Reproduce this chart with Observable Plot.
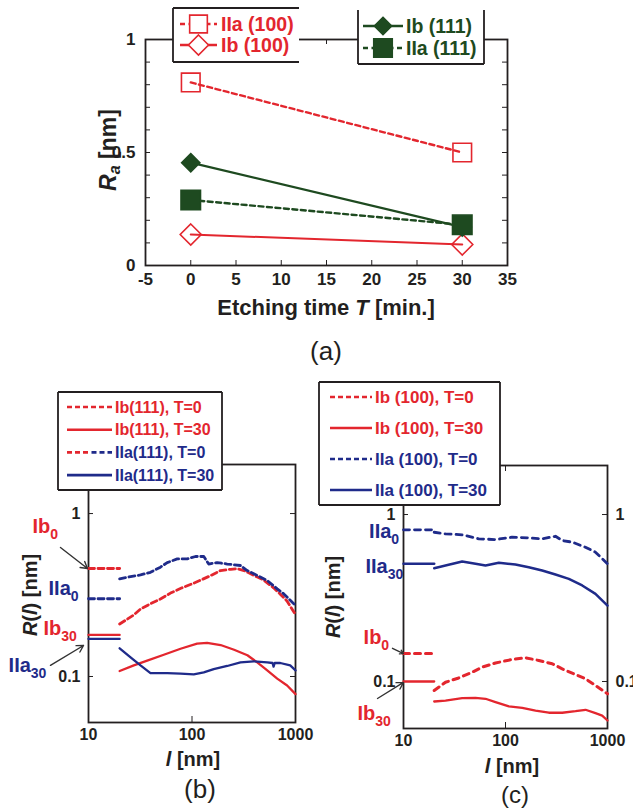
<!DOCTYPE html>
<html><head><meta charset="utf-8">
<script src="https://cdn.jsdelivr.net/npm/d3@7"></script>
<script src="https://cdn.jsdelivr.net/npm/@observablehq/plot@0.6"></script>
<style>
body{margin:0;background:#fff;}
#page{position:relative;width:633px;height:809px;overflow:hidden;background:#fff;font-family:"Liberation Sans",Arial,Helvetica,sans-serif;color:#231f20;}
.lbl{position:absolute;white-space:nowrap;font-weight:bold;transform:translate(-50%,-50%);line-height:1;}
.lbl sub{font-size:70%;vertical-align:-0.25em;}
</style></head><body><div id="page"></div>
<script>
// ---------------- DATA ----------------
// (a) average roughness vs etching time
const etchTime = [0, 30];
const seriesA = ["IIa (100)", "Ib (100)", "Ib (111)", "IIa (111)"];
const raIIa100 = [0.81, 0.50];
const raIb100  = [0.137, 0.093];
const raIb111  = [0.455, 0.17];
const raIIa111 = [0.29, 0.18];
const ticksAx = [-5, 0, 5, 10, 15, 20, 25, 30, 35];
const ticksAy = [0, 0.5, 1];

// (b) R(l) for (111)
const seriesB = ["Ib(111), T=0", "Ib(111), T=30", "IIa(111), T=0", "IIa(111), T=30"];
const lB_Ib0   = [20, 27, 32, 40, 50, 62, 80, 100, 121, 150, 189, 237, 274, 318, 397, 495, 614, 713, 830, 1000];
const rB_Ib0   = [0.21, 0.237, 0.26, 0.28, 0.30, 0.325, 0.35, 0.37, 0.39, 0.415, 0.447, 0.455, 0.458, 0.447, 0.417, 0.39, 0.35, 0.32, 0.29, 0.24];
const lB_Ib30  = [20, 27.4, 36.9, 53.4, 77.5, 112, 140, 189, 255, 343, 427, 533, 666, 830, 1000];
const rB_Ib30  = [0.108, 0.117, 0.125, 0.136, 0.148, 0.159, 0.161, 0.156, 0.146, 0.135, 0.122, 0.109, 0.097, 0.088, 0.078];
const lB_IIa0  = [20, 25.5, 31.8, 39.7, 49.6, 57.6, 72, 90, 108, 130, 145, 175, 219, 294, 341, 427, 533, 666, 771, 1000];
const rB_IIa0  = [0.397, 0.41, 0.42, 0.436, 0.469, 0.50, 0.527, 0.527, 0.545, 0.545, 0.49, 0.50, 0.49, 0.48, 0.447, 0.417, 0.388, 0.345, 0.321, 0.273];
const lB_IIa30 = [20, 25.5, 31.8, 39.7, 57.6, 77.5, 104, 130, 162, 219, 294, 396, 533, 600, 614, 630, 713, 889, 1000];
const rB_IIa30 = [0.149, 0.131, 0.117, 0.105, 0.105, 0.104, 0.103, 0.106, 0.111, 0.116, 0.122, 0.124, 0.122, 0.121, 0.115, 0.121, 0.121, 0.117, 0.109];
const initB    = [0.46, 0.18, 0.30, 0.17];   // Ib0, Ib30, IIa0, IIa30 at l = 10..20

// (c) R(l) for (100)
const seriesC = ["Ib (100), T=0", "Ib (100), T=30", "IIa (100), T=0", "IIa (100), T=30"];
const lC_Ib0   = [20, 25.8, 34.8, 47.2, 59.1, 79.8, 116, 157, 212, 287, 360, 486, 609, 762, 1000];
const rC_Ib0   = [0.0883, 0.099, 0.105, 0.1137, 0.122, 0.129, 0.1355, 0.1387, 0.1336, 0.1277, 0.119, 0.110, 0.1038, 0.0946, 0.0844];
const lC_Ib30  = [20, 25.8, 37.6, 50.8, 63.7, 79.8, 108, 146, 197, 266, 360, 486, 609, 762, 887, 1000];
const rC_Ib30  = [0.0759, 0.0769, 0.0794, 0.0797, 0.0788, 0.0752, 0.0709, 0.0696, 0.067, 0.065, 0.065, 0.0664, 0.0677, 0.0646, 0.0625, 0.0584];
const lC_IIa0  = [20, 25.8, 37.6, 54.9, 79.6, 116, 169, 229, 309, 360, 452, 607, 762, 1000];
const rC_IIa0  = [0.783, 0.766, 0.756, 0.715, 0.708, 0.731, 0.725, 0.715, 0.741, 0.699, 0.683, 0.637, 0.595, 0.507];
const lC_IIa30 = [20, 25.8, 37.6, 50.8, 63.7, 86, 125, 169, 229, 309, 418, 565, 762, 1000];
const rC_IIa30 = [0.477, 0.495, 0.523, 0.507, 0.495, 0.514, 0.502, 0.483, 0.462, 0.437, 0.412, 0.376, 0.335, 0.285];
const initC    = [0.147, 0.10, 0.81, 0.507];

const shortL = [10, 20];
const ticksLx = [10, 100, 1000];
const ticksRy = [0.1, 1];
const ticksRyLabels = ["0.1", "1"];

// annotation labels (data units)
const annoB = [
  {l: 2.88, R: 0.83, text: "Ib_0", c: "red"},
  {l: 4.11, R: 0.347, text: "IIa_0", c: "blue"},
  {l: 3.67, R: 0.197, text: "Ib_30", c: "red"},
  {l: 1.69, R: 0.117, text: "IIa_30", c: "blue"}
];
const arrowsB = [
  {l1: 5.36, R1: 0.619, l2: 9.78, R2: 0.46},
  {l1: 4.29, R1: 0.117, l2: 8.95, R2: 0.155}
];
const annoC = [
  {l: 4.6, R: 0.79, text: "IIa_0", c: "blue"},
  {l: 4.24, R: 0.489, text: "IIa_30", c: "blue"},
  {l: 4.06, R: 0.183, text: "Ib_0", c: "red"},
  {l: 3.54, R: 0.0643, text: "Ib_30", c: "red"}
];
const arrowsC = [
  {l1: 7.8, R1: 0.158, l2: 10, R2: 0.147},
  {l1: 5.56, R1: 0.0791, l2: 10, R2: 0.0987}
];

// ---------------- STYLE ----------------
const RED = "#e3262e", BLUE = "#1f2b8a", GREEN = "#1e4a20", INK = "#231f20";
const FONT = '"Liberation Sans", Arial, Helvetica, sans-serif';
const colorOf = {red: RED, blue: BLUE};
const styleA = {
  "IIa (100)": {color: RED, dash: "5,3.5", symbol: "square", fill: "none", r: 10.5, sw: 2.4},
  "Ib (100)":  {color: RED, dash: null, symbol: "diamond2", fill: "none", r: 9.5, sw: 2},
  "Ib (111)":  {color: GREEN, dash: null, symbol: "diamond2", fill: GREEN, r: 8.2, sw: 2.2},
  "IIa (111)": {color: GREEN, dash: "5,3.5", symbol: "square", fill: GREEN, r: 11, sw: 2.4}
};
const fmtR = d => ticksRyLabels[ticksRy.findIndex(t => Math.abs(t - d) < 1e-9)] ?? String(d);

const page = document.getElementById("page");
function put(el, left, top) {
  el.style.position = "absolute"; el.style.left = left + "px"; el.style.top = top + "px";
  page.appendChild(el);
}
function subscripts(svg) {
  svg.querySelectorAll("text").forEach(t => {
    const m = t.textContent.match(/^(.+)_(\d+)$/);
    if (m) {
      t.textContent = m[1];
      const ts = document.createElementNS("http://www.w3.org/2000/svg", "tspan");
      ts.setAttribute("dy", "6"); ts.setAttribute("font-size", "14"); ts.textContent = m[2];
      t.appendChild(ts);
    }
  });
}

// ---------------- PANEL (a) ----------------
{
  const W = 633, H = 380, mL = 145, mR = 126, mT = 39, mB = 115;
  const PW = W - mL - mR, PH = H - mT - mB;
  const raA = [raIIa100, raIb100, raIb111, raIIa111];
  const rows = seriesA.flatMap((name, i) => etchTime.map((T, j) => ({name, T, Ra: raA[i][j]})));
  const marks = [
    Plot.tickY(d3.ticks(0, 1, 10), {y: d => d, stroke: INK, insetRight: PW - 5}),
    Plot.tickY(d3.ticks(0, 1, 10), {y: d => d, stroke: INK, insetLeft: PW - 5}),
    Plot.tickX(ticksAx, {x: d => d, stroke: INK, insetTop: PH - 5}),
    Plot.tickX(ticksAx, {x: d => d, stroke: INK, insetBottom: PH - 5}),
    Plot.frame({stroke: INK, strokeWidth: 1.8}),
    Plot.axisY({ticks: ticksAy, tickSize: 0, tickPadding: 10, tickFormat: d => String(d), label: null}),
    Plot.axisX({ticks: ticksAx, tickSize: 0, tickPadding: 7, tickFormat: d => String(d), label: null})
  ];
  for (const name of seriesA) {
    const s = styleA[name], data = rows.filter(d => d.name === name);
    marks.push(Plot.line(data, {x: "T", y: "Ra", stroke: s.color, strokeWidth: s.sw, strokeDasharray: s.dash}));
    marks.push(Plot.dot(data, {x: "T", y: "Ra", symbol: s.symbol, r: s.r, stroke: s.color, fill: s.fill, strokeWidth: 1.6}));
  }
  const svg = Plot.plot({
    width: W, height: H, marginLeft: mL, marginRight: mR, marginTop: mT, marginBottom: mB,
    x: {domain: [-5, 35]}, y: {domain: [0, 1]},
    style: {fontFamily: FONT, fontSize: "17px", fontWeight: "bold", color: INK, background: "transparent", overflow: "visible"},
    marks
  });
  put(svg, 0, 0);
}

// ---------------- PANELS (b), (c) ----------------
function panelR(o) {
  const PW = o.width - o.mL - o.mR, PH = o.height - o.mT - o.mB;
  const marks = [
    Plot.tickY(ticksRy, {y: d => d, stroke: INK, insetRight: PW - 5}),
    Plot.tickY(ticksRy, {y: d => d, stroke: INK, insetLeft: PW - 5}),
    Plot.tickX([100], {x: d => d, stroke: INK, insetTop: PH - 6}),
    Plot.tickX([100], {x: d => d, stroke: INK, insetBottom: PH - 6}),
    Plot.frame({stroke: INK, strokeWidth: 1.8}),
    Plot.axisY({anchor: "left", ticks: ticksRy, tickSize: 0, tickPadding: 8, tickFormat: fmtR, label: null}),
    Plot.axisX({ticks: ticksLx, tickSize: 0, tickPadding: 6, tickFormat: d => String(d), label: null})
  ];
  if (o.rightLabels) marks.push(Plot.axisY({anchor: "right", ticks: ticksRy, tickSize: 0, tickPadding: 8, tickFormat: fmtR, label: null}));
  o.curves.forEach((c, i) => {
    const st = o.styles[i];
    const rows = c.l.map((l, k) => ({l, R: c.R[k]}));
    const seg = shortL.map(l => ({l, R: o.init[i]}));
    marks.push(Plot.line(seg, {x: "l", y: "R", stroke: st.color, strokeWidth: st.sw, strokeDasharray: st.dash}));
    marks.push(Plot.line(rows, {x: "l", y: "R", stroke: st.color, strokeWidth: st.sw, strokeDasharray: st.dash}));
  });
  marks.push(Plot.arrow(o.arrows, {x1: "l1", y1: "R1", x2: "l2", y2: "R2", stroke: "#333", strokeWidth: 1.4, headLength: 8}));
  marks.push(Plot.text(o.anno, {x: "l", y: "R", text: "text", fill: d => colorOf[d.c], textAnchor: "start", fontSize: 20, fontWeight: "bold"}));
  const svg = Plot.plot({
    width: o.width, height: o.height, marginLeft: o.mL, marginRight: o.mR, marginTop: o.mT, marginBottom: o.mB,
    x: {type: "log", domain: [10, 1000]}, y: {type: "log", domain: o.yDomain},
    style: {fontFamily: FONT, fontSize: "16px", fontWeight: "bold", color: INK, background: "transparent", overflow: "visible"},
    marks
  });
  subscripts(svg);
  put(svg, o.left, o.top);
}

const dashB = "6,3.5", dashC = "6,5";
panelR({
  left: 0, top: 440, width: 316, height: 369, mL: 88, mR: 21, mT: 24, mB: 87,
  yDomain: [0.0522, 2.0],
  curves: [{l: lB_Ib0, R: rB_Ib0}, {l: lB_Ib30, R: rB_Ib30}, {l: lB_IIa0, R: rB_IIa0}, {l: lB_IIa30, R: rB_IIa30}],
  init: initB,
  styles: [{color: RED, dash: dashB, sw: 2.8}, {color: RED, dash: null, sw: 2.3}, {color: BLUE, dash: dashB, sw: 2.8}, {color: BLUE, dash: null, sw: 2.3}],
  anno: annoB, arrows: arrowsB, rightLabels: false
});
panelR({
  left: 320, top: 440, width: 313, height: 369, mL: 83, mR: 26, mT: 25, mB: 81,
  yDomain: [0.0523, 1.966],
  curves: [{l: lC_Ib0, R: rC_Ib0}, {l: lC_Ib30, R: rC_Ib30}, {l: lC_IIa0, R: rC_IIa0}, {l: lC_IIa30, R: rC_IIa30}],
  init: initC,
  styles: [{color: RED, dash: dashC, sw: 3}, {color: RED, dash: null, sw: 2.3}, {color: BLUE, dash: dashC, sw: 2.8}, {color: BLUE, dash: null, sw: 2.5}],
  anno: annoC, arrows: arrowsC, rightLabels: true
});

// ---------------- LEGENDS ----------------
const overlay = d3.select(page).append("svg").attr("width", 633).attr("height", 809)
  .style("position", "absolute").style("left", 0).style("top", 0).style("pointer-events", "none");
const symbolType = {square: d3.symbolSquare, diamond2: d3.symbolDiamond2};
function legend(box, items) {
  const g = overlay.append("g");
  g.append("rect").attr("x", box.x).attr("y", box.y).attr("width", box.w).attr("height", box.h).attr("fill", "#fff");
  const s = box.sides || "tlbr";
  const L = (x1, y1, x2, y2) => g.append("line").attr("x1", x1).attr("y1", y1).attr("x2", x2).attr("y2", y2).attr("stroke", INK).attr("stroke-width", 1.8);
  if (s.includes("t")) L(box.x, box.y, box.x + box.w, box.y);
  if (s.includes("b")) L(box.x, box.y + box.h, box.x + box.w, box.y + box.h);
  if (s.includes("l")) L(box.x, box.y, box.x, box.y + box.h);
  if (s.includes("r")) L(box.x + box.w, box.y, box.x + box.w, box.y + box.h);
  items.forEach((it, i) => {
    const y = box.y0 + box.dy * i;
    const mid = (box.lx1 + box.lx2) / 2;
    if (it.color2) {
      g.append("line").attr("x1", box.lx1).attr("x2", mid).attr("y1", y).attr("y2", y).attr("stroke", it.color).attr("stroke-width", it.sw).attr("stroke-dasharray", it.dash);
      g.append("line").attr("x1", mid + 2).attr("x2", box.lx2).attr("y1", y).attr("y2", y).attr("stroke", it.color2).attr("stroke-width", it.sw).attr("stroke-dasharray", it.dash);
    } else {
      g.append("line").attr("x1", box.lx1).attr("x2", box.lx2).attr("y1", y).attr("y2", y).attr("stroke", it.color).attr("stroke-width", it.sw).attr("stroke-dasharray", it.dash);
    }
    if (it.symbol) {
      g.append("path").attr("d", d3.symbol(symbolType[it.symbol], Math.PI * it.r * it.r)())
        .attr("transform", `translate(${mid},${y})`).attr("fill", it.fill).attr("stroke", it.color).attr("stroke-width", 1.6);
    }
    g.append("text").attr("x", box.tx).attr("y", y).attr("dy", "0.35em").attr("fill", it.textColor || it.color)
      .attr("font-family", FONT).attr("font-weight", "bold").attr("font-size", box.fs).text(it.name);
  });
}
legend({x: 173, y: 8, w: 126, h: 54, sides: "tlb", y0: 24, dy: 21, lx1: 180, lx2: 217, tx: 221, fs: 19.5},
  seriesA.slice(0, 2).map(n => ({name: n, color: styleA[n].color, dash: styleA[n].dash, sw: 2.4, symbol: styleA[n].symbol, fill: styleA[n].fill === "none" ? "#fff" : styleA[n].fill, r: styleA[n].r * 0.95})));
legend({x: 358, y: 10, w: 126, h: 54, sides: "lrb", y0: 26, dy: 22, lx1: 363, lx2: 403, tx: 406, fs: 19.5},
  seriesA.slice(2, 4).map(n => ({name: n, color: styleA[n].color, dash: styleA[n].dash, sw: 2.4, symbol: styleA[n].symbol, fill: styleA[n].fill, r: styleA[n].r * 0.95})));
legend({x: 58, y: 392, w: 164, h: 98, y0: 407, dy: 22.7, lx1: 67, lx2: 112, tx: 115, fs: 16}, [
  {name: seriesB[0], color: RED, dash: "5,3", sw: 2.6},
  {name: seriesB[1], color: RED, dash: null, sw: 2.6},
  {name: seriesB[2], color: RED, color2: BLUE, textColor: BLUE, dash: "5,3", sw: 2.6},
  {name: seriesB[3], color: BLUE, dash: null, sw: 2.6}
]);
legend({x: 319, y: 382, w: 181, h: 123, y0: 397, dy: 31, lx1: 330, lx2: 372, tx: 375, fs: 17}, [
  {name: seriesC[0], color: RED, dash: "5,3", sw: 2.6},
  {name: seriesC[1], color: RED, dash: null, sw: 2.4},
  {name: seriesC[2], color: BLUE, dash: "5,3", sw: 2.6},
  {name: seriesC[3], color: BLUE, dash: null, sw: 2.4}
]);

// ---------------- TEXT LABELS ----------------
function label(html, cx, cy, size, opts = {}) {
  const d = document.createElement("div");
  d.className = "lbl"; d.innerHTML = html;
  d.style.left = cx + "px"; d.style.top = cy + "px"; d.style.fontSize = size + "px";
  if (opts.rotate) d.style.transform = "translate(-50%,-50%) rotate(-90deg)";
  if (opts.weight) d.style.fontWeight = opts.weight;
  page.appendChild(d);
}
label('<i>R</i><sub><i>a</i></sub> [nm]', 110, 150, 23, {rotate: true});
label('Etching time <i>T</i> [min.]', 326, 308, 22);
label('(a)', 326, 351, 26, {weight: "normal"});
label('<i>R</i>(<i>l</i>) [nm]', 30, 595, 20, {rotate: true});
label('<i>l</i> [nm]', 193, 759, 20);
label('(b)', 200, 789, 26, {weight: "normal"});
label('<i>R</i>(<i>l</i>) [nm]', 333, 597, 20, {rotate: true});
label('<i>l</i> [nm]', 512, 766, 20);
label('(c)', 515, 795, 24, {weight: "normal"});
</script></body></html>
